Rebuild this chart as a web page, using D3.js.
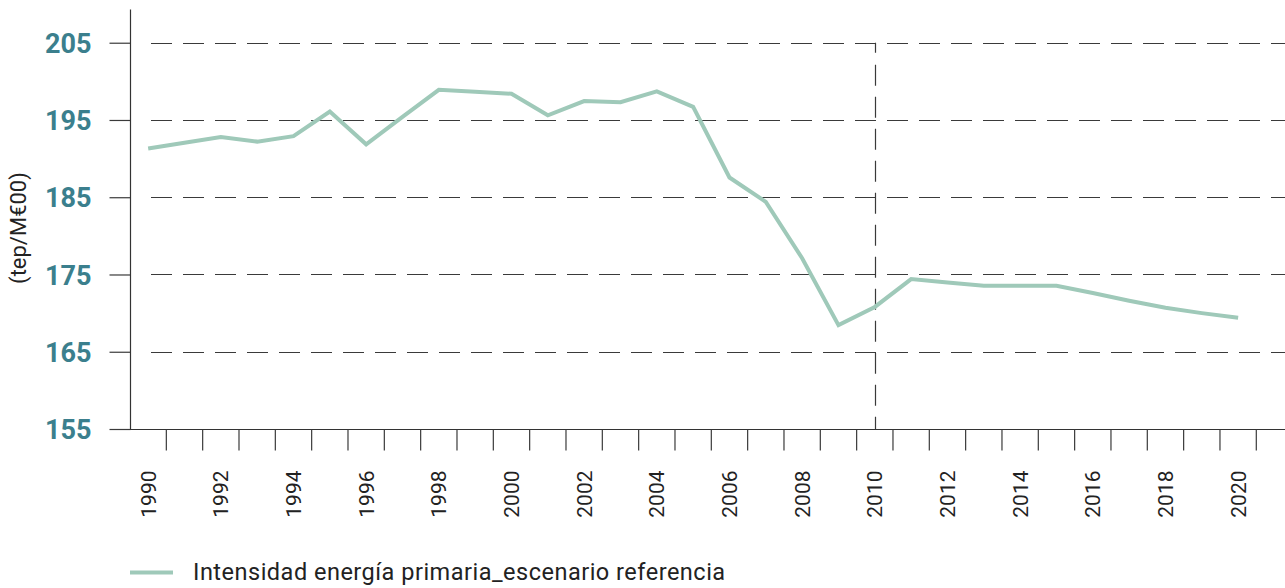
<!DOCTYPE html>
<html>
<head>
<meta charset="utf-8">
<script src="https://cdn.jsdelivr.net/npm/d3@7"></script>
<style>
  html, body { margin: 0; padding: 0; background: #fff; }
  svg { display: block; }
</style>
</head>
<body>
<svg id="chart" width="1285" height="588"></svg>
<script>
const years = d3.range(1990, 2021).map(String);
const values = [191.3, 192.05, 192.8, 192.2, 192.9, 196.1, 191.85, 195.4, 198.9, 198.65,
  198.4, 195.6, 197.45, 197.3, 198.7, 196.7, 187.55, 184.4, 177.1, 168.45,
  170.8, 174.4, 173.95, 173.55, 173.55, 173.55, 172.6, 171.6, 170.7, 170.0, 169.4];
const yTicks = [155, 165, 175, 185, 195, 205];
const xLabelYears = ["1990","1992","1994","1996","1998","2000","2002","2004","2006","2008","2010","2012","2014","2016","2018","2020"];
const markerYear = "2010";
const seriesName = "Intensidad energía primaria_escenario referencia";
const yTitle = "(tep/M€00)";

(function () {
const W = 1285, H = 588;
const mLeft = 130, mRight = 1256.3, mTop = 9.5, mBottom = 429;
const svg = d3.select("#chart");

const x = d3.scaleBand().domain(years).range([mLeft, mRight]).paddingInner(0).paddingOuter(0);
const y = d3.scaleLinear().domain([155, 209.3]).range([mBottom, mTop]);

const lineColor = "#9fc9b9";
const tealText = "#3b7f8d";

// horizontal dashed gridlines
const grid = svg.append("g");
grid.selectAll("line.g").data(yTicks.filter(d => d > 155)).join("line")
  .attr("x1", mLeft + 21).attr("x2", W)
  .attr("y1", d => Math.round(y(d)) + 0.5).attr("y2", d => Math.round(y(d)) + 0.5)
  .attr("stroke", "#3a3a3a").attr("stroke-width", 1.2)
  .attr("stroke-dasharray", "21,11");

// vertical dashed marker at 2010
const xm = x(markerYear) + x.bandwidth() / 2;
svg.append("line")
  .attr("x1", Math.round(xm) + 0.5).attr("x2", Math.round(xm) + 0.5)
  .attr("y1", y(205)).attr("y2", mBottom)
  .attr("stroke", "#3a3a3a").attr("stroke-width", 1.2)
  .attr("stroke-dasharray", "10,12,21,11,21,11,21,11,21,11,21,11,21,11,21,11,21,11,21,11,21,11,21,11,21,11");

// y axis
const yAxis = d3.axisLeft(y).tickValues(yTicks).tickSize(21).tickFormat(d3.format("d"));
const gy = svg.append("g").attr("transform", `translate(${mLeft + 0.5},0)`).call(yAxis);
gy.select(".domain").remove();
gy.append("line").attr("x1", 0).attr("x2", 0).attr("y1", mTop).attr("y2", mBottom)
  .attr("stroke", "#333").attr("stroke-width", 1.2);
gy.selectAll(".tick line").attr("stroke", "#3a3a3a").attr("stroke-width", 1.2);
gy.selectAll(".tick text")
  .attr("x", -39)
  .attr("fill", tealText)
  .style("font-family", "Roboto, 'DejaVu Sans', sans-serif")
  .style("font-weight", "700")
  .style("font-size", "27px")
  .attr("dy", "0.36em");

// x axis
const gx = svg.append("g").attr("transform", `translate(0,${mBottom + 0.5})`);
gx.append("line").attr("x1", mLeft).attr("x2", W).attr("y1", 0).attr("y2", 0)
  .attr("stroke", "#333").attr("stroke-width", 1.2);
const xAxis = d3.axisBottom(x).tickValues(xLabelYears).tickSize(0).tickPadding(0);
const gxa = gx.append("g").call(xAxis);
gxa.select(".domain").remove();
gxa.selectAll(".tick line").remove();
gxa.selectAll(".tick text")
  .attr("transform", "translate(0,41) rotate(-90)")
  .attr("text-anchor", "end")
  .attr("x", 0).attr("y", 0).attr("dy", "0.36em")
  .attr("fill", "#222")
  .style("font-family", "Roboto, 'DejaVu Sans', sans-serif")
  .style("font-size", "21px");
// tick marks at band boundaries
gx.selectAll("line.bt").data(years.slice(1).concat(["__end"])).join("line")
  .attr("class", "bt")
  .attr("x1", d => d === "__end" ? mRight : x(d)).attr("x2", d => d === "__end" ? mRight : x(d))
  .attr("y1", 0).attr("y2", 21)
  .attr("stroke", "#3a3a3a").attr("stroke-width", 1.2);

// data line
const line = d3.line()
  .x((d, i) => x(years[i]) + x.bandwidth() / 2)
  .y(d => y(d));
svg.append("path").datum(values)
  .attr("d", line)
  .attr("fill", "none")
  .attr("stroke", lineColor)
  .attr("stroke-width", 4)
  .attr("stroke-linejoin", "miter");

// y title
svg.append("text")
  .attr("transform", `translate(26,228) rotate(-90)`)
  .attr("text-anchor", "middle")
  .attr("fill", "#222")
  .style("font-family", "Roboto, 'DejaVu Sans', sans-serif")
  .style("font-size", "22px")
  .text(yTitle);

// legend
const lg = svg.append("g");
lg.append("line").attr("x1", 130).attr("x2", 173).attr("y1", 572.5).attr("y2", 572.5)
  .attr("stroke", lineColor).attr("stroke-width", 4);
lg.append("text").attr("x", 193).attr("y", 580)
  .attr("fill", "#222")
  .style("font-family", "Roboto, 'DejaVu Sans', sans-serif")
  .style("font-size", "23.5px")
  .style("letter-spacing", "0.5px")
  .text(seriesName);
})();
</script>
</body>
</html>
